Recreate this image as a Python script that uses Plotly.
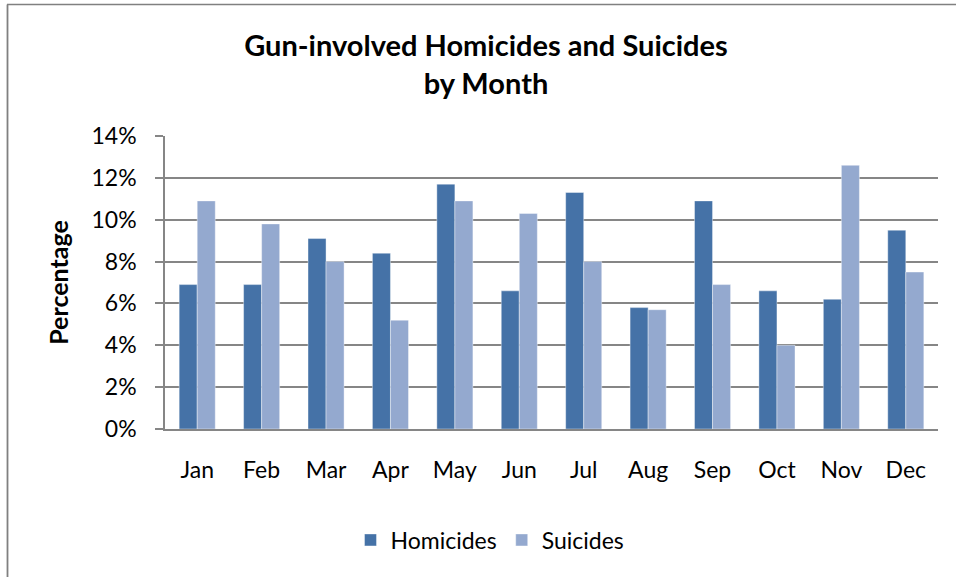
import plotly.graph_objects as go

months = ["Jan", "Feb", "Mar", "Apr", "May", "Jun", "Jul", "Aug", "Sep", "Oct", "Nov", "Dec"]
homicides = [6.9, 6.9, 9.1, 8.4, 11.7, 6.6, 11.3, 5.8, 10.9, 6.6, 6.2, 9.5]
suicides = [10.9, 9.8, 8.0, 5.2, 10.9, 10.3, 8.0, 5.7, 6.9, 4.0, 12.6, 7.5]
y_ticks = [0, 2, 4, 6, 8, 10, 12, 14]
y_tick_labels = ["0%", "2%", "4%", "6%", "8%", "10%", "12%", "14%"]

W, H = 956, 577
L, R, T, B = 165, 18, 136, 148
pw, ph = W - L - R, H - T - B

def px_to_paper_x(px):
    return (px - L) / pw

def px_to_paper_y(py):
    return (H - B - py) / ph

FONT = "Lato, Calibri, sans-serif"

fig = go.Figure()
fig.add_trace(go.Bar(x=months, y=homicides, name="Homicides",
                     marker=dict(color="#4572A7", line=dict(color="rgba(255,255,255,0.5)", width=0.8))))
fig.add_trace(go.Bar(x=months, y=suicides, name="Suicides",
                     marker=dict(color="#94A9CF", line=dict(color="rgba(255,255,255,0.5)", width=0.8))))

fig.update_layout(
    width=W, height=H,
    margin=dict(l=L, r=R, t=T, b=B),
    paper_bgcolor="white", plot_bgcolor="white",
    barmode="group", bargap=0.44, bargroupgap=0,
    font=dict(family=FONT, size=23, color="black"),
    title=dict(text="<b>Gun-involved Homicides and Suicides<br>by Month</b>",
               x=px_to_paper_x(486), xref="paper", xanchor="center",
               y=1 - 56 / H, yref="container", yanchor="middle",
               font=dict(family=FONT, size=29, color="black")),
    showlegend=True,
    legend=dict(orientation="h", x=px_to_paper_x(490), xanchor="center",
                y=px_to_paper_y(540), yanchor="middle",
                font=dict(family=FONT, size=23, color="black"),
                itemwidth=30, tracegroupgap=0),
    xaxis=dict(showgrid=False, ticks="", showline=True, linecolor="#868686", linewidth=1.5,
               tickfont=dict(family=FONT, size=23), ticklabelstandoff=20,
               range=[-0.5, 11.5]),
    yaxis=dict(range=[0, 14], tickvals=y_ticks, ticktext=y_tick_labels,
               showgrid=True, gridcolor="#868686", gridwidth=1.6,
               showline=True, linecolor="#868686", linewidth=1.6,
               ticks="outside", ticklen=8, tickcolor="#868686", tickwidth=1.6,
               ticklabelstandoff=14,
               tickfont=dict(family=FONT, size=23),
               title=dict(text="<b>Percentage</b>", standoff=16,
                          font=dict(family=FONT, size=25, color="black")),
               zeroline=False),
)

# outer chart border (left and top visible)
fig.add_shape(type="line", xref="paper", yref="paper",
              x0=px_to_paper_x(7.5), x1=px_to_paper_x(7.5),
              y0=px_to_paper_y(4.5), y1=px_to_paper_y(H + 5),
              line=dict(color="#808080", width=1.8))
fig.add_shape(type="line", xref="paper", yref="paper",
              x0=px_to_paper_x(7), x1=px_to_paper_x(W + 5),
              y0=px_to_paper_y(4.5), y1=px_to_paper_y(4.5),
              line=dict(color="#808080", width=1.5))

fig.write_html("out.html", config={"displayModeBar": False},
               post_script="document.body.style.margin='0';document.body.style.overflow='hidden';")
